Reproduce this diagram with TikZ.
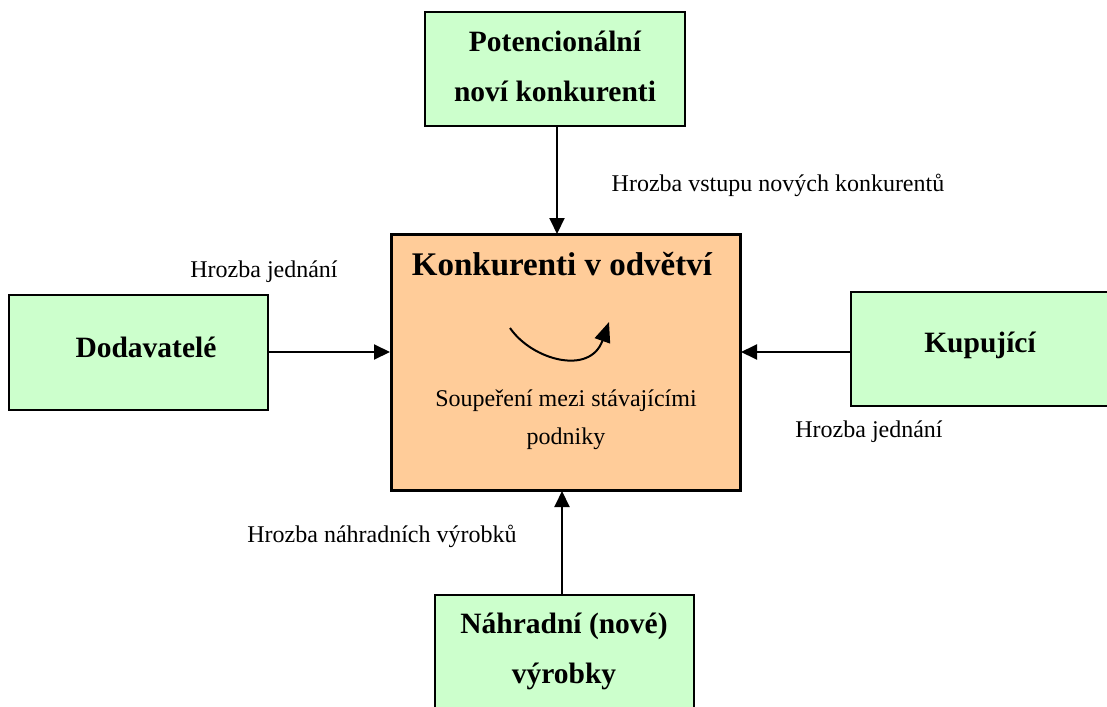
\documentclass[tikz,border=0pt]{standalone}
\usepackage{fontspec}
\setmainfont{Liberation Serif}
\usetikzlibrary{arrows.meta}
\definecolor{boxgreen}{HTML}{CCFFCC}
\definecolor{boxorange}{HTML}{FFCC99}
\tikzset{
  greenbox/.style={draw=black, line width=2pt, fill=boxgreen, rectangle, inner sep=0pt},
  centerbox/.style={draw=black, line width=3pt, fill=boxorange, rectangle, inner sep=0pt},
  boxtext/.style={anchor=base, inner sep=0pt, font=\fontsize{29.5}{34}\selectfont\bfseries},
  titletext/.style={anchor=base, inner sep=0pt, font=\fontsize{33}{38}\selectfont\bfseries},
  lbl/.style={anchor=base, inner sep=0pt, font=\fontsize{24}{28}\selectfont},
  force/.style={line width=2pt, -{Triangle[length=16pt,width=15pt]}},
}
\begin{document}
\begin{tikzpicture}[x=1pt,y=-1pt]
\useasboundingbox (0,0) rectangle (1107,706);
\clip (0,0) rectangle (1107,706);
% boxes
\node[greenbox, minimum width=260pt, minimum height=114pt] (top) at (555,69) {};
\node[centerbox, minimum width=349pt, minimum height=256pt] (mid) at (565.5,362) {};
\node[greenbox, minimum width=259pt, minimum height=115pt] (left) at (138.5,352.5) {};
\node[greenbox, minimum width=270pt, minimum height=114pt] (right) at (986,349) {};
\node[greenbox, minimum width=259pt, minimum height=130pt] (bottom) at (564.5,660) {};
% box texts
\node[boxtext] (t1) at (555,52) {Potencionální};
\node[boxtext] (t2) at (555,102) {noví konkurenti};
\node[boxtext] (t3) at (146,357) {Dodavatelé};
\node[boxtext] (t4) at (980,352) {Kupující};
\node[boxtext] (t5) at (564,633) {Náhradní (nové)};
\node[boxtext] (t6) at (564,683) {výrobky};
\node[titletext] (t7) at (562,275) {Konkurenti v odvětví};
\node[lbl] (t8) at (566,406) {Soupeření mezi stávajícími};
\node[lbl] (t9) at (566,444) {podniky};
% labels
\node[lbl] (l1) at (778,191) {Hrozba vstupu nových konkurentů};
\node[lbl] (l2) at (264,277) {Hrozba jednání};
\node[lbl] (l3) at (869,437) {Hrozba jednání};
\node[lbl] (l4) at (382,542) {Hrozba náhradních výrobků};
% connectors
\coordinate (ta) at (557,126);
\coordinate (tb) at (557,234);
\draw[force] (ta) -- (tb);
\coordinate (la) at (268,352);
\coordinate (lb) at (390,352);
\draw[force] (la) -- (lb);
\coordinate (ra) at (851,352);
\coordinate (rb) at (741,352);
\draw[force] (ra) -- (rb);
\coordinate (ba) at (562,595);
\coordinate (bb) at (562,491);
\draw[force] (ba) -- (bb);
% rivalry curve
\coordinate (ca) at (510,328);
\coordinate (cb) at (609,322);
\draw[line width=2pt, -{Triangle[length=20pt,width=16pt]}] (ca) .. controls (532,360) and (590,376) .. (cb);
\end{tikzpicture}
\end{document}
